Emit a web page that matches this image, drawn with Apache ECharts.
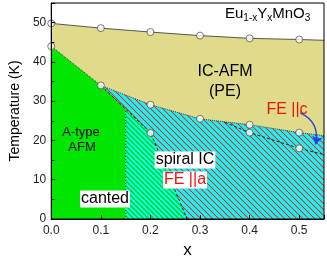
<!DOCTYPE html>
<html><head><meta charset="utf-8">
<script src="https://cdn.jsdelivr.net/npm/echarts@6/dist/echarts.min.js"></script>
<style>html,body{margin:0;padding:0;background:#fff}#c{width:327px;height:264px}</style>
</head><body><div id="c"></div>
<script>
// ---- data ----
const xTN = [0, 0.1, 0.2, 0.3, 0.4, 0.5];
const tTN = [49.8, 48.6, 47.6, 46.7, 46.0, 45.7];
const tTNend = [0.55, 45.5];
const xLock = [0, 0.1, 0.2, 0.3, 0.4, 0.5];
const tLock = [44.0, 34.0, 29.1, 25.5, 24.0, 22.0];
const tLockEnd = [0.55, 21.2];
const xFEc = [0.2, 0.4, 0.5];
const tFEc = [21.9, 22.0, 18.0];
const feCBoundary = [[0.35, 24.6], [0.4, 22.0], [0.5, 18.0], [0.55, 16.4]];
const spiralBoundary = [[0.1, 34.0], [0.2, 22.0], [0.274, 0]];
const aTypeBoundary = [[0.1, 34.0], [0.15, 28.0], [0.15, 0]];
const arrowCoords = [[0.502, 27.0], [0.533, 19.0]];
const xTicks = [0, 0.1, 0.2, 0.3, 0.4, 0.5];
const yTicks = [0, 10, 20, 30, 40, 50];

// ---- patterns ----
function stripe(bg, fg, edge, s, w) {
  const c = document.createElement('canvas'); c.width = s; c.height = s;
  const g = c.getContext('2d');
  g.fillStyle = bg; g.fillRect(0, 0, s, s);
  const draw = (col, lw) => {
    g.strokeStyle = col; g.lineWidth = lw;
    for (const x0 of [-s, 0, s]) { g.beginPath(); g.moveTo(x0, 0); g.lineTo(x0 + s, s); g.stroke(); }
  };
  if (edge) draw(edge, w + 0.6);
  draw(fg, w);
  return { image: c, repeat: 'repeat' };
}
const cyanGreen = stripe('#10f6f6', '#00d800', null, 5, 1.5);
const cyanRed = stripe('#10f6f6', '#f01818', '#8aa0a0', 6, 0.9);

const khakiPoly = xTN.map((x, i) => [x, tTN[i]]).concat([tTNend, tLockEnd])
  .concat(xLock.map((x, i) => [x, tLock[i]]).reverse());
const greenPoly = [[0, tLock[0]]].concat(aTypeBoundary).concat([[0, 0]]);
const spiralPoly = aTypeBoundary.concat(spiralBoundary.slice().reverse());
const fePoly = xLock.slice(1).map((x, i) => [x, tLock[i + 1]]).concat([tLockEnd, [0.55, 0]])
  .concat(spiralBoundary.slice().reverse());

function polySeries(points, fill, z) {
  return {
    type: 'custom', z: z, silent: true,
    data: [0],
    renderItem: (params, api) => ({
      type: 'polygon',
      shape: { points: points.map(p => api.coord(p)) },
      style: { fill: fill, stroke: null }
    })
  };
}
function lineSeries(pts, color, type, w) {
  return { type: 'line', data: pts, symbol: 'none', z: 5, silent: true,
    lineStyle: { color: color, type: type, width: w } };
}
const pick = (arr, v, d) => { const i = arr.findIndex(t => Math.abs(t - v) < 1e-6); return i >= 0 ? arr[i].toFixed(d) : ''; };

const chart = echarts.init(document.getElementById('c'), null, { renderer: 'canvas' });
const font = 'Arial, "Liberation Sans", sans-serif';
chart.setOption({
  animation: false,
  textStyle: { fontFamily: font },
  grid: { left: 48, right: 1, top: 3, bottom: 30, show: true, borderColor: '#000', borderWidth: 1, z: 10 },
  xAxis: {
    type: 'value', min: 0, max: 0.55, interval: 0.1, z: 10,
    name: 'x', nameLocation: 'middle', nameGap: 23,
    nameTextStyle: { fontSize: 17, color: '#000', fontFamily: font },
    axisLine: { lineStyle: { color: '#000' } },
    axisTick: { inside: true, length: 4, lineStyle: { color: '#000' } },
    splitLine: { show: false },
    axisLabel: { fontSize: 12, color: '#222', margin: 6, fontFamily: font, formatter: v => pick(xTicks, v, 1) }
  },
  yAxis: {
    type: 'value', min: 0, max: 55, interval: 10, z: 10,
    name: 'Temperature (K)', nameLocation: 'middle', nameGap: 28,
    nameTextStyle: { fontSize: 14, color: '#000', fontFamily: font },
    axisLine: { lineStyle: { color: '#000' } },
    axisTick: { inside: true, length: 4, lineStyle: { color: '#000' } },
    minorTick: { show: true, splitNumber: 2, length: 3, lineStyle: { color: '#000' } },
    splitLine: { show: false },
    axisLabel: { fontSize: 12, color: '#222', margin: 5, fontFamily: font, formatter: v => pick(yTicks, v, 0) }
  },
  series: [
    polySeries(khakiPoly, '#dfdb8b', 1),
    polySeries(greenPoly, '#00e600', 1),
    polySeries(spiralPoly, cyanGreen, 1),
    polySeries(fePoly, cyanRed, 1),
    lineSeries(xTN.map((x, i) => [x, tTN[i]]).concat([tTNend]), '#555', 'solid', 1),
    lineSeries(xLock.map((x, i) => [x, tLock[i]]).concat([tLockEnd]), '#333', 'dotted', 1),
    lineSeries(spiralBoundary, '#222', [3, 2], 1),
    lineSeries(aTypeBoundary, '#222', [1, 2], 1),
    lineSeries(feCBoundary, '#222', [3, 2], 1),
    {
      type: 'lines', coordinateSystem: 'cartesian2d', z: 12, silent: true,
      symbol: ['none', 'arrow'], symbolSize: 8,
      lineStyle: { color: '#2a3fe0', width: 1.4, curveness: 0.4, opacity: 1 },
      data: [{ coords: arrowCoords }]
    },
    {
      type: 'scatter', z: 8, symbol: 'circle', symbolSize: 7, silent: true,
      itemStyle: { color: '#fff', borderColor: '#333', borderWidth: 0.8 },
      data: xTN.map((x, i) => [x, tTN[i]])
        .concat(xLock.map((x, i) => [x, tLock[i]]))
        .concat(xFEc.map((x, i) => [x, tFEc[i]]))
    }
  ],
  graphic: [
    { type: 'text', z: 20, left: 225, top: 6, style: {
      text: 'Eu{s|1-x}Y{s|x}MnO{s|3}', font: '15px ' + font, fill: '#000',
      rich: { s: { fontSize: 10, fontFamily: font, padding: [9, 0, 0, 0] } } } },
    { type: 'text', z: 20, style: { x: 225, y: 72, text: 'IC-AFM', font: '16px ' + font, fill: '#000', align: 'center', verticalAlign: 'middle' } },
    { type: 'text', z: 20, style: { x: 225, y: 92, text: '(PE)', font: '16px ' + font, fill: '#000', align: 'center', verticalAlign: 'middle' } },
    { type: 'text', z: 20, style: { x: 287, y: 110, text: 'FE ||c', font: '16px ' + font, fill: '#ee1111', align: 'center', verticalAlign: 'middle' } },
    { type: 'text', z: 20, style: { x: 81, y: 132, text: 'A-type', font: '13px ' + font, fill: '#000', align: 'center', verticalAlign: 'middle' } },
    { type: 'text', z: 20, style: { x: 82, y: 147, text: 'AFM', font: '13px ' + font, fill: '#000', align: 'center', verticalAlign: 'middle' } },
    { type: 'text', z: 20, style: { x: 105, y: 199, text: 'canted', font: '16px ' + font, fill: '#000', align: 'center', verticalAlign: 'middle', backgroundColor: '#fff', padding: [1, 1, 0, 1] } },
    { type: 'text', z: 20, style: { x: 185, y: 160, text: 'spiral IC', font: '16px ' + font, fill: '#000', align: 'center', verticalAlign: 'middle', backgroundColor: '#fff', padding: [1, 1, 0, 1] } },
    { type: 'text', z: 20, style: { x: 185, y: 180, text: 'FE ||a', font: '16px ' + font, fill: '#ee1111', align: 'center', verticalAlign: 'middle', backgroundColor: '#fff', padding: [1, 1, 0, 1] } }
  ]
});
</script></body></html>
